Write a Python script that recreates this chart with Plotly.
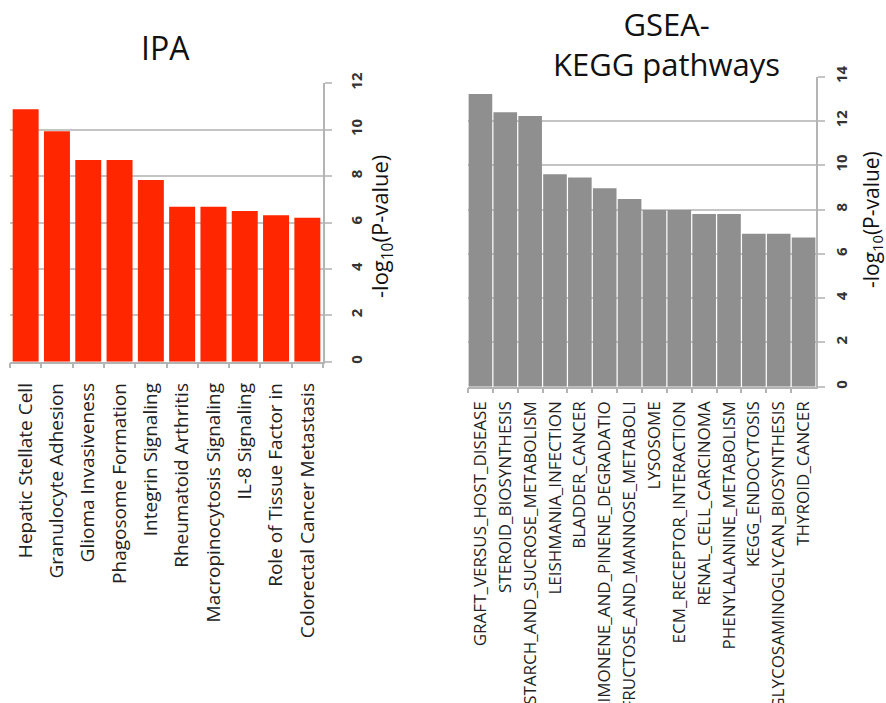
import plotly.graph_objects as go

W, H = 886, 703

ipa_categories = ["Hepatic Stellate Cell", "Granulocyte Adhesion", "Glioma Invasiveness",
                  "Phagosome Formation", "Integrin Signaling", "Rheumatoid Arthritis",
                  "Macropinocytosis Signaling", "IL-8 Signaling", "Role of Tissue Factor in",
                  "Colorectal Cancer Metastasis"]
ipa_values = [10.88, 9.93, 8.69, 8.69, 7.83, 6.68, 6.68, 6.50, 6.31, 6.21]

kegg_categories = ["GRAFT_VERSUS_HOST_DISEASE", "STEROID_BIOSYNTHESIS", "STARCH_AND_SUCROSE_METABOLISM",
                   "LEISHMANIA_INFECTION", "BLADDER_CANCER", "LIMONENE_AND_PINENE_DEGRADATIO",
                   "FRUCTOSE_AND_MANNOSE_METABOLI", "LYSOSOME", "ECM_RECEPTOR_INTERACTION",
                   "RENAL_CELL_CARCINOMA", "PHENYLALANINE_METABOLISM", "KEGG_ENDOCYTOSIS",
                   "GLYCOSAMINOGLYCAN_BIOSYNTHESIS", "THYROID_CANCER"]
kegg_values = [13.22, 12.40, 12.22, 9.60, 9.45, 8.96, 8.48, 7.98, 7.98, 7.80, 7.80, 6.91, 6.91, 6.74]

ipa_ticks = [0, 2, 4, 6, 8, 10, 12]
kegg_ticks = [0, 2, 4, 6, 8, 10, 12, 14]

def px(x):
    return x / W

def py(y):
    return 1 - y / H

FONT = "Open Sans"
GRID = "#c4c4c4"
AXIS = "#b4b4b4"

fig = go.Figure()
fig.add_trace(go.Bar(x=ipa_categories, y=ipa_values, marker=dict(color="#ff2600", line=dict(width=0)),
                     xaxis="x", yaxis="y", showlegend=False))
fig.add_trace(go.Bar(x=kegg_categories, y=kegg_values, marker=dict(color="#8f8f8f", line=dict(width=0)),
                     xaxis="x2", yaxis="y2", showlegend=False, width=0.95))

common_x = dict(type="category", showgrid=False, ticks="outside", tickson="boundaries",
                ticklen=5, tickcolor=AXIS, tickwidth=1.5, showline=True, linecolor=AXIS, linewidth=1.5,
                tickangle=-90, automargin=False, fixedrange=True)
common_y = dict(side="right", showgrid=True, gridcolor=GRID, gridwidth=2, ticks="outside",
                ticklen=7, tickcolor=GRID, tickwidth=2, showline=True, linecolor=AXIS, linewidth=1.5,
                tickangle=-90, zeroline=False, automargin=False, fixedrange=True,
                tickfont=dict(family=FONT, size=15, color="#333333", weight="bold"))

fig.update_layout(
    width=W, height=H, margin=dict(l=0, r=0, t=0, b=0),
    paper_bgcolor="white", plot_bgcolor="white", bargap=0.17,
    font=dict(family=FONT, color="#111111"),
    xaxis=dict(domain=[px(10), px(323)], anchor="y", ticklabelstandoff=12,
               tickfont=dict(family=FONT, size=19, color="#222222"), **common_x),
    yaxis=dict(domain=[py(361.7), py(83.3)], anchor="x", range=[0, 12], tickvals=ipa_ticks,
               ticklabelstandoff=12, **common_y),
    xaxis2=dict(domain=[px(468), px(816)], anchor="y2", ticklabelstandoff=6,
                tickfont=dict(family=FONT, size=17, color="#222222"), **common_x),
    yaxis2=dict(domain=[py(386.7), py(76.7)], anchor="x2", range=[0, 14], tickvals=kegg_ticks,
                ticklabelstandoff=4, **common_y),
    annotations=[
        dict(text="IPA", x=px(165), y=py(47), xref="paper", yref="paper", showarrow=False,
             font=dict(family=FONT, size=32, color="#111111"), xanchor="center", yanchor="middle"),
        dict(text="GSEA-<br>KEGG pathways", x=px(666), y=py(44), xref="paper", yref="paper", showarrow=False,
             font=dict(family=FONT, size=31, color="#111111"), xanchor="center", yanchor="middle"),
        dict(text="-log<sub>10</sub>(P-value)", x=px(381), y=py(227), xref="paper", yref="paper",
             showarrow=False, textangle=-90, font=dict(family=FONT, size=22, color="#111111"),
             xanchor="center", yanchor="middle"),
        dict(text="-log<sub>10</sub>(P-value)", x=px(872), y=py(220), xref="paper", yref="paper",
             showarrow=False, textangle=-90, font=dict(family=FONT, size=21, color="#111111"),
             xanchor="center", yanchor="middle"),
    ],
)

fig.write_html("out.html", config={"displayModeBar": False},
               post_script="document.body.style.margin='0';document.body.style.overflow='hidden';")
